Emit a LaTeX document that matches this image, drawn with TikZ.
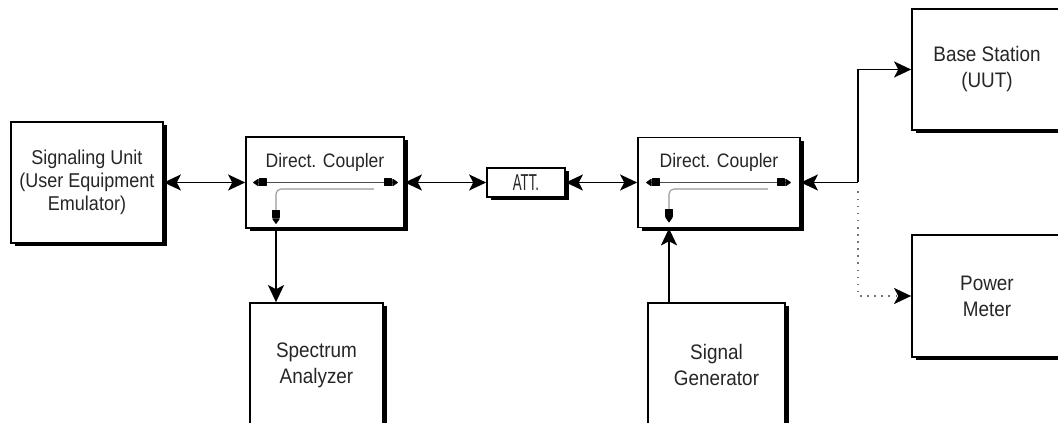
\documentclass[tikz,border=0pt]{standalone}
\usepackage{fontspec}
\setmainfont[FakeStretch=0.9]{Liberation Sans}
\usetikzlibrary{arrows.meta}
\usetikzlibrary{calc,shadows}

\begin{document}
\begin{tikzpicture}[x=1pt, y=1pt,
  unit/.style={draw=black, line width=1.7pt, fill=white, align=center, inner sep=0,
    text=black!85, font=\fontsize{21}{26}\selectfont,
    drop shadow={shadow xshift=3.5pt, shadow yshift=-3.5pt, fill=black, opacity=1}},
  caption/.style={text=black!85, font=\fontsize{19.5}{22}\selectfont, inner sep=0},
  link/.style={line width=1.4pt, -{Stealth[length=17pt, width=16pt, inset=4pt]}},
  both/.style={line width=1.4pt, {Stealth[length=17pt, width=16pt, inset=4pt]}-{Stealth[length=17pt, width=16pt, inset=4pt]}},
  through/.style={line width=1.1pt, draw=black!70,
    {Triangle[length=6pt, width=8pt, round, sep=0pt, black]Rectangle[length=8pt, width=8pt, round, sep=0pt, black]}-{Rectangle[length=8pt, width=8pt, round, sep=0pt, black]Triangle[length=6pt, width=8pt, round, sep=0pt, black]}},
  tapline/.style={line width=1.1pt, draw=black!40, rounded corners=5pt,
    -{Rectangle[length=8pt, width=8pt, round, sep=0pt, black]Triangle[length=6pt, width=8pt, round, sep=0pt, black]}}]
\useasboundingbox (0,0) rectangle (1058,423);
\clip (0,0) rectangle (1058,423);

% units
\node[unit, minimum width=152, minimum height=121, font=\fontsize{20}{23}\selectfont] (sig) at (87,240.5) {Signaling Unit\\(User Equipment\\Emulator)};
\node[unit, minimum width=158, minimum height=91] (dc1) at (325,240.5) {};
\node[unit, minimum width=78, minimum height=29, font=\fontsize{23}{24}\selectfont] (att) at (526,240.5) {\scalebox{0.64}[1]{ATT.}};
\node[unit, minimum width=162, minimum height=90] (dc2) at (719,240.5) {};
\node[unit, minimum width=150, minimum height=121] (bs) at (987,353.5) {Base Station\\(UUT)};
\node[unit, minimum width=150, minimum height=122] (pm) at (987,127) {Power\\Meter};
\node[unit, minimum width=133, minimum height=124] (sa) at (316.5,58) {Spectrum\\Analyzer};
\node[unit, minimum width=137, minimum height=124] (sg) at (716.5,58) {Signal\\Generator};

\node[caption] (dc1cap) at (325,261) {Direct. Coupler};
\node[caption] (dc2cap) at (719,261) {Direct. Coupler};

% taps and branch point
\coordinate (tap1) at (276,0);
\coordinate (tap2) at (669,0);
\coordinate (tee) at (858,240.5);

% main path
\draw[both] (sig) -- (dc1);
\draw[both] (dc1) -- (att);
\draw[both] (att) -- (dc2);
\draw[link] (tee) -- (dc2);
\draw[link] (tee) |- (bs);
\draw[line width=1.6pt, draw=black!55, dash pattern=on 1.6pt off 5.5pt, -{Stealth[length=17pt, width=16pt, inset=4pt, black]}] ($(tee)+(0,-9)$) |- (pm);

% inside the couplers
\draw[through] ($(dc1.west)+(8,0)$) -- ($(dc1.east)+(-7,0)$);
\draw[tapline] ($(dc1.east)+(-31,-6.5)$) -| ($(dc1.south -| tap1)+(0,5)$);
\draw[through] ($(dc2.west)+(9,0)$) -- ($(dc2.east)+(-10,0)$);
\draw[tapline] ($(dc2.east)+(-33,-6.5)$) -| ($(dc2.south -| tap2)+(0,6)$);

% coupled ports
\draw[link] (dc1.south -| tap1) -- (sa.north -| tap1);
\draw[link] (sg.north -| tap2) -- (dc2.south -| tap2);
\end{tikzpicture}
\end{document}
